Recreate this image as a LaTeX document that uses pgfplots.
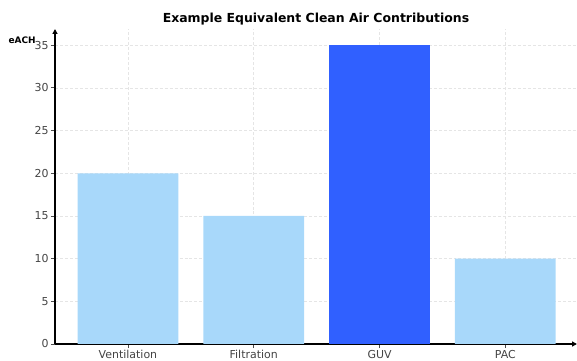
\documentclass[border=0pt]{standalone}
\usepackage{pgfplots}
\pgfplotsset{compat=1.18}
\usepackage{fontspec}
\setmainfont{DejaVu Sans}
\usetikzlibrary{arrows.meta}
\definecolor{lightbar}{RGB}{168,216,250}
\definecolor{darkbar}{RGB}{48,96,255}
\definecolor{ticktext}{RGB}{68,68,68}
\begin{document}
\begin{tikzpicture}
\begin{axis}[
  at={(0,0)}, anchor=south west,
  scale only axis,
  width=522bp, height=315bp,
  xmin=-0.58, xmax=3.57,
  ymin=0, ymax=36.9,
  axis lines=left,
  axis line style={line width=1.7bp, -{Triangle[length=5bp,width=5bp]}},
  xtick={0,1,2,3},
  xticklabels={Ventilation,Filtration,GUV,PAC},
  ytick={0,5,10,15,20,25,30,35},
  tick align=outside,
  major tick length=4bp,
  tick style={line width=0.8bp, black!70},
  ticklabel style={font=\fontsize{11}{12}\selectfont, text=ticktext},
  /pgf/number format/assume math mode=true,
  xmajorgrids, ymajorgrids,
  major grid style={densely dashed, black!10, line width=0.6bp},
  title={\bfseries Example Equivalent Clean Air Contributions},
  every axis title/.style={at={(axis description cs:0.5,1.033)}, anchor=center, font=\fontsize{12.5}{14}\selectfont},
  ylabel={\bfseries eACH},
  every axis y label/.style={at={(axis description cs:-0.063,0.965)}, anchor=center, font=\fontsize{9}{10}\selectfont},
  xticklabel style={yshift=1bp},
  yticklabel style={xshift=1bp},
  bar width=0.8,
]
\addplot[ybar, fill=lightbar, draw=none] coordinates {(0,20) (1,15) (3,10)};
\addplot[ybar, fill=darkbar, draw=none] coordinates {(2,35)};
\end{axis}
\pgfresetboundingbox
\useasboundingbox (-55bp,-17bp) rectangle (522bp,344bp);
\end{tikzpicture}
\end{document}
